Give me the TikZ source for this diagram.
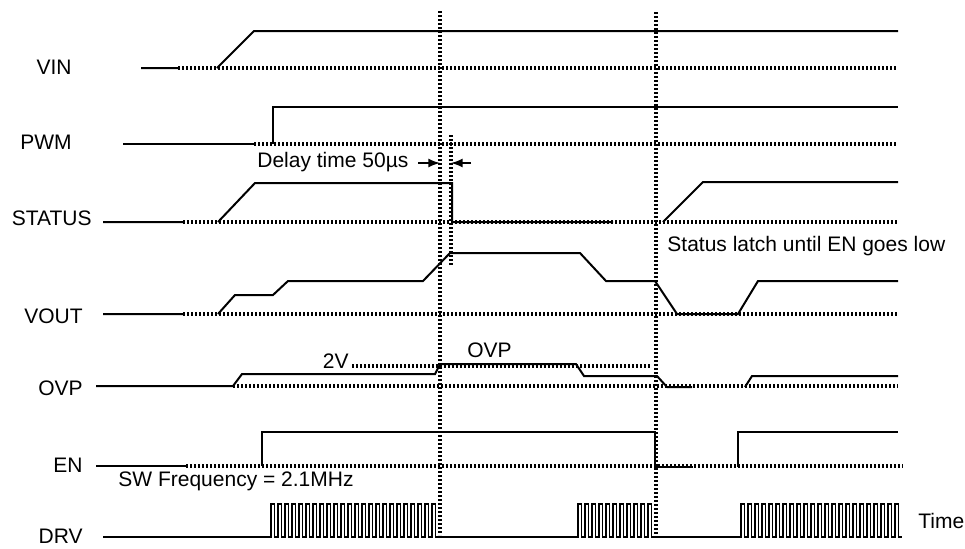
\documentclass[tikz,border=0pt]{standalone}
\usepackage{fontspec}
\setmainfont{Liberation Sans}
\usetikzlibrary{positioning}
\usetikzlibrary{arrows}
\tikzset{
sig/.style={
  line width=1pt,
  line join=miter
  },
refl/.style={
  line width=1.6pt,
  dash pattern=on 1.2pt off 0.8pt
  },
pulse/.style={
  line width=0.8pt
  },
lbl/.style={
  anchor=base east,
  inner sep=0pt,
  font=\fontsize{10.5}{12}\selectfont
  },
txt/.style={
  anchor=base west,
  inner sep=0pt,
  font=\fontsize{10.5}{12}\selectfont
  }
}
\begin{document}
\begin{tikzpicture}[x=0.5pt,y=-0.5pt,>=latex]
\useasboundingbox (0,0) rectangle (965,548);
% signal names
\node[lbl] (vin) at (72,74) {VIN};
\node[lbl] (pwm) at (72,149) {PWM};
\node[lbl] (status) at (92,225) {STATUS};
\node[lbl] (vout) at (83,323) {VOUT};
\node[lbl] (ovp) at (83,395) {OVP};
\node[lbl] (en) at (83,472) {EN};
\node[lbl] (drv) at (83,543) {DRV};
% zero levels and markers
\draw[refl] (178,68) -- (897,68);
\draw[refl] (254,144) -- (897,144);
\draw[refl] (183,222) -- (897,222);
\draw[refl] (183,314) -- (898,314);
\draw[refl] (233,386) -- (898,386);
\draw[refl] (186,466) -- (903,466);
\draw[refl] (352,366) -- (650,366);
\draw[refl] (440,11) -- (440,535);
\draw[refl] (656,12) -- (656,535);
\draw[refl] (451,135) -- (451,266);
% waveforms
\draw[sig] (141,68) -- (178,68) (217,68) -- (254,31) -- (898,31);
\draw[sig] (123,144) -- (254,144) (273,144) -- (273,107) -- (898,107);
\draw[sig] (103,222) -- (183,222) (218,222) -- (255,183) -- (452,183) -- (452,222) -- (613,222)
  (663,222) -- (703,182) -- (898,182);
\draw[sig] (103,314) -- (183,314) (218,314) -- (235,295) -- (273,295) -- (288,281) -- (423,281)
  -- (450,253) -- (580,253) -- (606,281) -- (655,281) -- (677,314) -- (738,314)
  -- (758,281) -- (898,281);
\draw[sig] (96,386) -- (233,386) -- (242,374) -- (435,374) -- (440,364) -- (576,364)
  -- (584,376) -- (657,376) -- (667,387) -- (692,387) (745,387) -- (752,376) -- (898,376);
\draw[sig] (96,466) -- (186,466) (262,466) -- (262,432) -- (655,432) -- (655,467) -- (693,467)
  (738,467) -- (738,432) -- (898,432);
\draw[pulse] (103,537) -- (271,537)
  \foreach \i in {1,...,24} {-- ++(0,-33) -- ++(3.5,0) -- ++(0,33) -- ++(3.5,0)}
  -- (578,537)
  \foreach \i in {1,...,11} {-- ++(0,-33) -- ++(3.5,0) -- ++(0,33) -- ++(3.5,0)}
  -- (741,537)
  \foreach \i in {1,...,23} {-- ++(0,-33) -- ++(3.5,0) -- ++(0,33) -- ++(3.5,0)};
% delay
\coordinate (d1) at (440,163);
\coordinate (d2) at (451,163);
\coordinate (da) at (418,163);
\coordinate (db) at (471,163);
\draw[->,line width=1pt] (da) -- (d1);
\draw[->,line width=1pt] (db) -- (d2);
% notes
\node[txt] (delay) at (257,167) {Delay time 50µs};
\node[txt] (latch) at (667,251) {Status latch until EN goes low};
\node[lbl] (thr) at (349,368) {2V};
\node[txt] (ovplim) at (467,357) {OVP};
\node[txt] (swf) at (118,486) {SW Frequency = 2.1MHz};
\node[txt] (time) at (918,528) {Time};
\end{tikzpicture}
\end{document}
